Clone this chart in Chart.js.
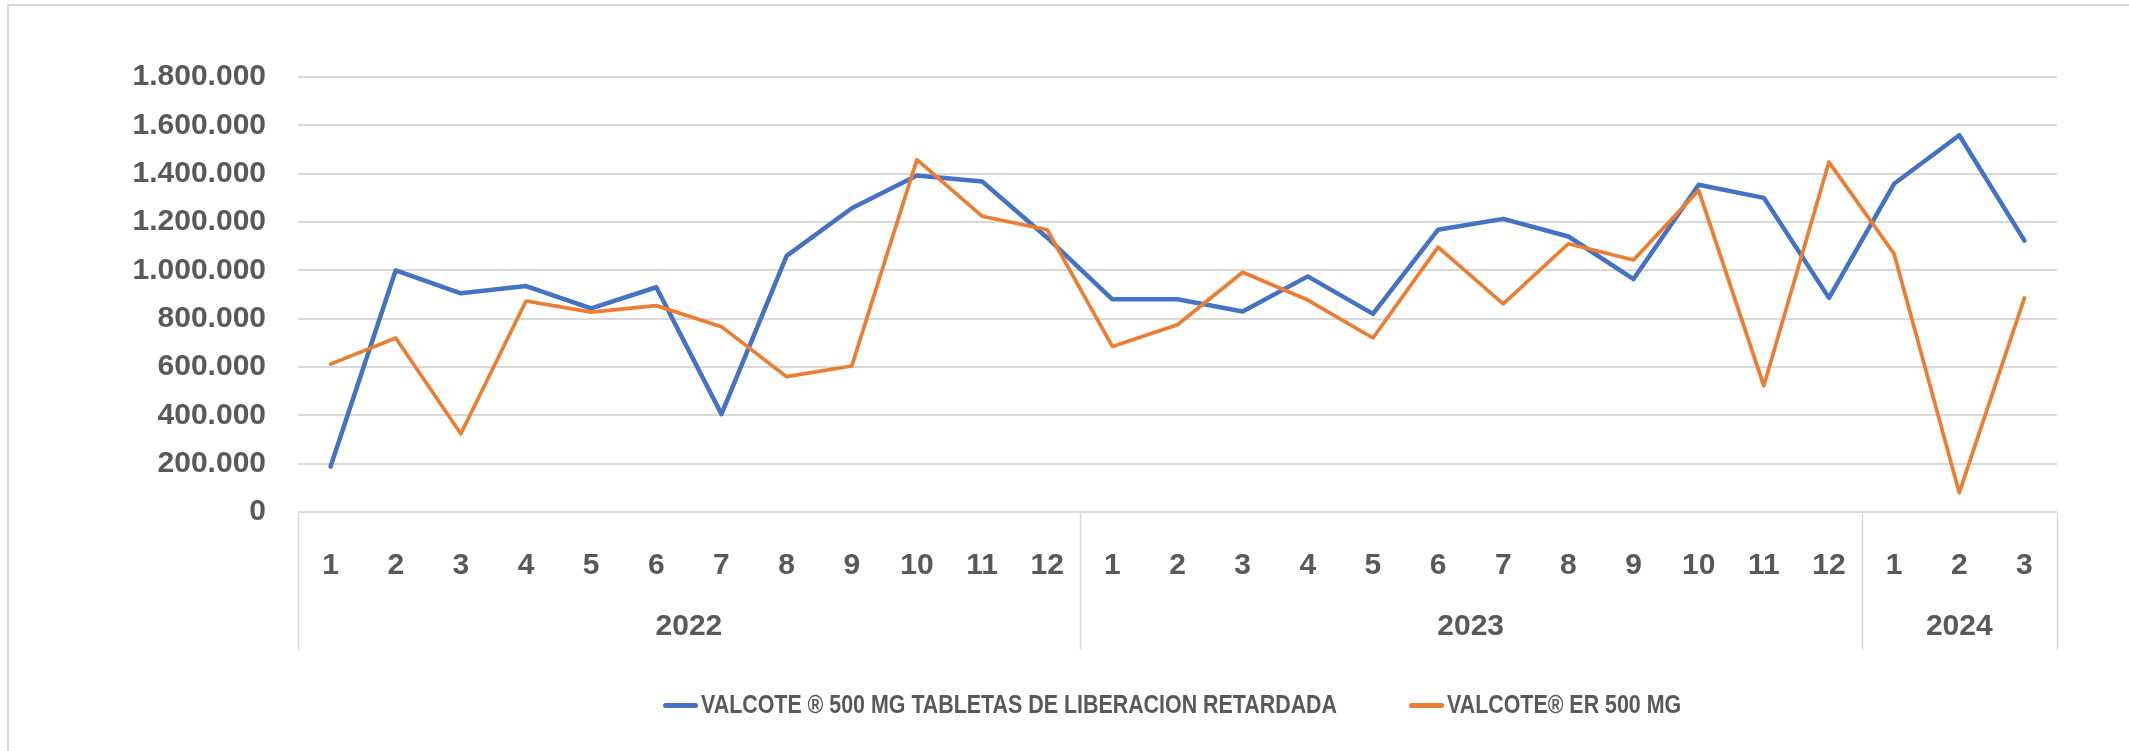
<!DOCTYPE html>
<html>
<head>
<meta charset="utf-8">
<script src="https://cdn.jsdelivr.net/npm/chart.js@4.4.1/dist/chart.umd.min.js"></script>
<style>
  html, body { margin: 0; padding: 0; background: #fff; }
  #wrap { position: relative; width: 2129px; height: 751px; overflow: hidden; }
  #frame { position: absolute; left: 7px; top: 4px; right: -10px; bottom: -10px;
           border-top: 2px solid #d9d9d9; border-left: 2px solid #d9d9d9; }
  #chart { position: absolute; left: 0; top: 0; }
  .legend-item { position: absolute; top: 690px; height: 30px; line-height: 30px;
                 font: bold 25px "Liberation Sans", Arial, sans-serif;
                 color: #595959; white-space: nowrap; }
  .legend-item .swatch { display: inline-block; width: 35px; height: 5px; border-radius: 3px;
                         vertical-align: middle; margin-right: 3px; position: relative; top: -1px; }
  /* the source font is a narrow one, squeeze the text to the same width */
  .legend-item .txt { display: inline-block; transform: scaleX(0.856); transform-origin: left center; }
</style>
</head>
<body>
<div id="wrap">
  <div id="frame"></div>
  <canvas id="chart" width="2129" height="751"></canvas>
  <div class="legend-item" style="left:663px"><span class="swatch" style="background:#4472C4"></span><span class="txt">VALCOTE ® 500 MG TABLETAS DE LIBERACION RETARDADA</span></div>
  <div class="legend-item" style="left:1409px"><span class="swatch" style="background:#ED7D31"></span><span class="txt">VALCOTE® ER 500 MG</span></div>
</div>
<script>
// Axis categories
const months = ['1','2','3','4','5','6','7','8','9','10','11','12',
                '1','2','3','4','5','6','7','8','9','10','11','12',
                '1','2','3'];
const years = ['2022', '2023', '2024'];
const monthsPerYear = [12, 12, 3];

// Series (units)
const valcoteDR = [188000, 1000000, 905000, 935000, 843000, 930000, 405000, 1060000, 1257000, 1392000, 1368000, 1135000,
                   880000, 880000, 830000, 975000, 820000, 1168000, 1213000, 1140000, 964000, 1354000, 1300000, 886000,
                   1358000, 1559000, 1123000];
const valcoteER = [612000, 720000, 324000, 873000, 827000, 854000, 767000, 560000, 604000, 1458000, 1224000, 1168000,
                   685000, 775000, 992000, 877000, 720000, 1096000, 861000, 1110000, 1043000, 1331000, 522000, 1448000,
                   1068000, 80000, 886000];

const TEXT_COLOR = '#595959';
const GRID_COLOR = '#d9d9d9';
const FONT = '"Liberation Sans", Arial, sans-serif';

// thousands with dots, like 1.800.000
function fmt(v) {
    return String(v).replace(/\B(?=(\d{3})+(?!\d))/g, '.');
}

// Draws the year row and the group separators under the month labels
const yearGroups = {
    id: 'yearGroups',
    afterDraw(chart) {
        const { ctx, chartArea } = chart;
        const x = chart.scales.x;
        const top = chartArea.bottom;
        const bottom = top + 138;
        const half = (x.getPixelForValue(1) - x.getPixelForValue(0)) / 2;

        ctx.save();
        ctx.strokeStyle = GRID_COLOR;
        ctx.lineWidth = 1.5;
        ctx.fillStyle = TEXT_COLOR;
        ctx.font = 'bold 30px ' + FONT;
        ctx.textAlign = 'center';
        ctx.textBaseline = 'middle';

        let start = 0;
        const edges = [chartArea.left];
        years.forEach((yr, i) => {
            const end = start + monthsPerYear[i] - 1;
            const left = x.getPixelForValue(start) - half;
            const right = x.getPixelForValue(end) + half;
            edges.push(right);
            ctx.fillText(yr, (left + right) / 2, top + 115);
            start = end + 1;
        });
        edges.forEach(px => {
            ctx.beginPath();
            ctx.moveTo(Math.round(px) + 0.5, top);
            ctx.lineTo(Math.round(px) + 0.5, bottom);
            ctx.stroke();
        });
        ctx.restore();
    }
};

new Chart(document.getElementById('chart'), {
    type: 'line',
    data: {
        labels: months,
        datasets: [
            {
                label: 'VALCOTE ® 500 MG TABLETAS DE LIBERACION RETARDADA',
                data: valcoteDR,
                borderColor: '#4472C4',
                borderWidth: 4.5,
                pointRadius: 0,
                borderJoinStyle: 'round',
                borderCapStyle: 'round',
                order: 1
            },
            {
                label: 'VALCOTE® ER 500 MG',
                data: valcoteER,
                borderColor: '#ED7D31',
                borderWidth: 3.7,
                pointRadius: 0,
                borderJoinStyle: 'round',
                borderCapStyle: 'round',
                order: 0
            }
        ]
    },
    options: {
        responsive: false,
        animation: false,
        layout: { padding: { top: 77, left: 0, right: 72, bottom: 101 } },
        plugins: {
            legend: { display: false },
            tooltip: { enabled: false }
        },
        scales: {
            x: {
                offset: true,
                grid: { display: false },
                border: { display: false },
                ticks: {
                    color: TEXT_COLOR,
                    font: { family: FONT, size: 30, weight: 'bold' },
                    padding: 28,
                    maxRotation: 0,
                    autoSkip: false
                },
                afterFit(scale) { scale.height = 138; }
            },
            y: {
                min: 0,
                max: 1800000,
                grid: { color: GRID_COLOR, lineWidth: 2, drawTicks: false },
                border: { display: false },
                ticks: {
                    stepSize: 200000,
                    color: TEXT_COLOR,
                    font: { family: FONT, size: 30, weight: 'bold' },
                    padding: 32,
                    callback: v => fmt(v)
                },
                afterFit(scale) { scale.width = 298; }
            }
        }
    },
    plugins: [yearGroups]
});
</script>
</body>
</html>
